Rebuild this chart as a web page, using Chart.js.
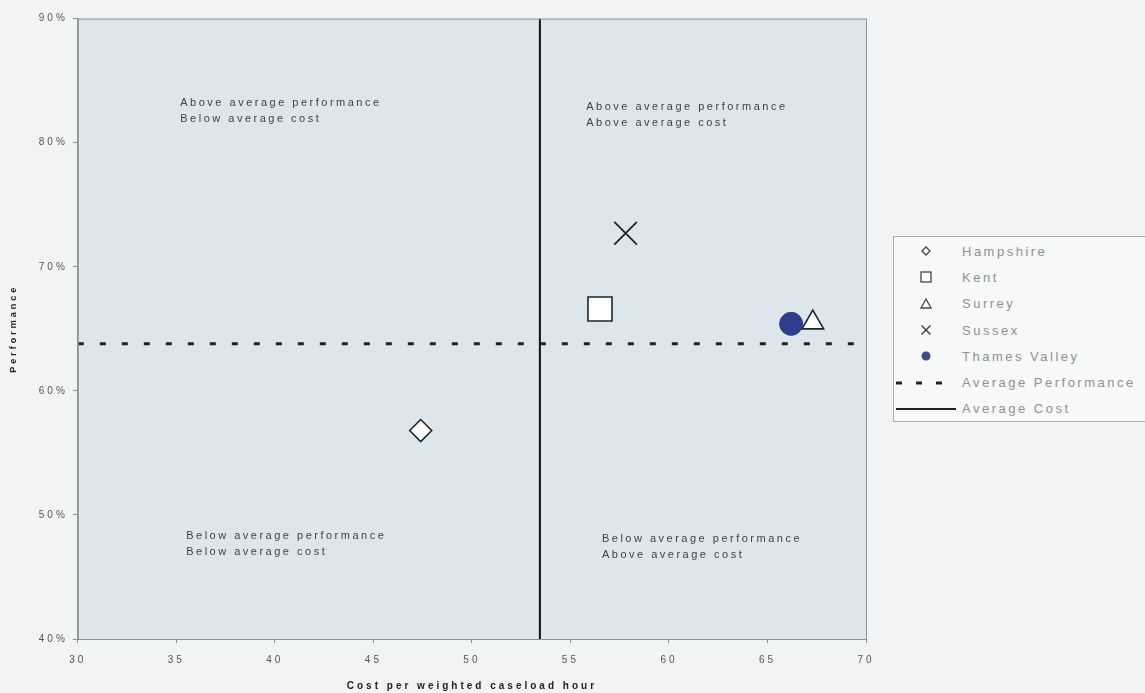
<!DOCTYPE html>
<html lang="en">
<head>
    <meta charset="UTF-8">
    <title>Performance vs Cost</title>
    <script src="https://cdn.jsdelivr.net/npm/chart.js"></script>
    <style>
        html, body {
            margin: 0;
            padding: 0;
            overflow: hidden;
            background-color: #f2f4f4;
            font-family: "Liberation Sans", Arial, sans-serif;
        }
        #wrap {
            position: relative;
            width: 1145px;
            height: 693px;
        }
        #legend {
            position: absolute;
            left: 893px;
            top: 236px;
            width: 280px;
            height: 186px;
            border: 1px solid #a8acae;
            background: #f7f8f8;
            box-sizing: border-box;
            padding-top: 1px;
        }
        .item {
            display: flex;
            align-items: center;
            height: 26.3px;
            font-size: 13px;
            letter-spacing: 2.5px;
            color: #8e9194;
            white-space: nowrap;
        }
        .item svg {
            width: 64px;
            height: 14px;
            margin-right: 4px;
        }
    </style>
</head>
<body>
<div id="wrap">
    <canvas id="chart" width="1145" height="693"></canvas>
    <div id="legend"></div>
</div>
<script>
    // data
    const regions = ['Hampshire', 'Kent', 'Surrey', 'Sussex', 'Thames Valley'];
    const cost = [47.4, 56.5, 67.3, 57.8, 66.2];
    const performance = [56.8, 66.6, 65.5, 72.7, 65.4];
    const avgCost = 53.45;
    const avgPerformance = 63.8;
    const xTicks = [30, 35, 40, 45, 50, 55, 60, 65, 70];
    const yTicks = [40, 50, 60, 70, 80, 90];

    // quadrant captions, anchored in data units (first line centre)
    const quadrants = [
        { x: 35.2, y: 83.2, lines: ['Above average performance', 'Below average cost'] },
        { x: 55.8, y: 82.9, lines: ['Above average performance', 'Above average cost'] },
        { x: 35.5, y: 48.3, lines: ['Below average performance', 'Below average cost'] },
        { x: 56.6, y: 48.1, lines: ['Below average performance', 'Above average cost'] }
    ];

    const markers = [
        { pointStyle: 'rectRot', radius: 11, bg: '#ffffff', border: '#222', width: 1.6 },
        { pointStyle: 'rect', radius: 17, bg: '#ffffff', border: '#222', width: 1.6 },
        { pointStyle: 'triangle', radius: 12.5, bg: '#ffffff', border: '#222', width: 1.6 },
        { pointStyle: 'crossRot', radius: 16, bg: '#222', border: '#222', width: 1.8 },
        { pointStyle: 'circle', radius: 11.5, bg: '#2f3d8c', border: '#2f3d8c', width: 1 }
    ];

    const datasets = regions.map((name, i) => ({
        type: 'scatter',
        label: name,
        data: [{ x: cost[i], y: performance[i] }],
        pointStyle: markers[i].pointStyle,
        pointRadius: markers[i].radius,
        pointHoverRadius: markers[i].radius,
        backgroundColor: markers[i].bg,
        borderColor: markers[i].border,
        pointBorderWidth: markers[i].width
    }));

    datasets.push({
        type: 'line',
        label: 'Average Performance',
        data: [{ x: 30, y: avgPerformance }, { x: 70, y: avgPerformance }],
        borderColor: '#222',
        borderWidth: 3,
        borderDash: [6, 16],
        pointRadius: 0
    });
    datasets.push({
        type: 'line',
        label: 'Average Cost',
        data: [{ x: avgCost, y: 40 }, { x: avgCost, y: 90 }],
        borderColor: '#111',
        borderWidth: 2,
        pointRadius: 0
    });

    // the printed chart uses widely spaced lettering everywhere
    const spacing = chart => { chart.ctx.letterSpacing = '3px'; };

    const plotBackground = {
        id: 'plotBackground',
        afterInit: spacing,
        beforeUpdate: spacing,
        beforeDraw(chart) {
            spacing(chart);
            const { ctx, chartArea: a } = chart;
            ctx.save();
            ctx.fillStyle = '#dde6ea';
            ctx.fillRect(a.left, a.top, a.width, a.height);
            ctx.restore();
        },
        afterDatasetsDraw(chart) {
            const { ctx, chartArea: a, scales } = chart;
            ctx.save();
            ctx.strokeStyle = '#8c9296';
            ctx.lineWidth = 1;
            ctx.strokeRect(a.left + 0.5, a.top + 0.5, a.width, a.height);
            ctx.font = '11px "Liberation Sans", Arial, sans-serif';
            ctx.letterSpacing = '2.5px';
            ctx.fillStyle = '#3f4244';
            ctx.textBaseline = 'middle';
            quadrants.forEach(q => {
                const px = scales.x.getPixelForValue(q.x);
                const py = scales.y.getPixelForValue(q.y);
                q.lines.forEach((t, k) => ctx.fillText(t, px, py + k * 16));
            });
            ctx.restore();
        }
    };

    new Chart(document.getElementById('chart'), {
        data: { datasets: datasets },
        options: {
            responsive: false,
            animation: false,
            layout: { padding: { top: 10, right: 279, left: 8, bottom: 1 } },
            plugins: {
                legend: { display: false },
                tooltip: { enabled: false }
            },
            scales: {
                x: {
                    type: 'linear',
                    min: 30,
                    max: 70,
                    afterBuildTicks: axis => { axis.ticks = xTicks.map(v => ({ value: v })); },
                    grid: { drawOnChartArea: false, drawTicks: true, tickLength: 4, color: '#8c9296' },
                    border: { color: '#8c9296' },
                    ticks: { color: '#555', font: { size: 10, family: '"Liberation Sans", Arial' }, padding: 11 },
                    title: {
                        display: true,
                        text: 'Cost per weighted caseload hour',
                        color: '#222',
                        font: { size: 10, weight: 'bold', family: '"Liberation Sans", Arial' },
                        padding: { top: 3, bottom: 0 }
                    }
                },
                y: {
                    type: 'linear',
                    min: 40,
                    max: 90,
                    afterBuildTicks: axis => { axis.ticks = yTicks.map(v => ({ value: v })); },
                    grid: { drawOnChartArea: false, drawTicks: true, tickLength: 5, color: '#8c9296' },
                    border: { color: '#8c9296' },
                    ticks: {
                        color: '#555',
                        font: { size: 10, family: '"Liberation Sans", Arial' },
                        padding: 5,
                        callback: v => v + '%'
                    },
                    title: {
                        display: true,
                        text: 'Performance',
                        color: '#222',
                        font: { size: 9, weight: 'bold', family: '"Liberation Sans", Arial' },
                        padding: { top: 0, bottom: 15 }
                    }
                }
            }
        },
        plugins: [plotBackground]
    });

    // legend
    const symbols = [
        '<polygon points="32,3 36,7 32,11 28,7" fill="#fff" stroke="#444" stroke-width="1.3"/>',
        '<rect x="27" y="2" width="10" height="10" fill="#fff" stroke="#444" stroke-width="1.3"/>',
        '<polygon points="32,2 37,11 27,11" fill="#fff" stroke="#444" stroke-width="1.3"/>',
        '<path d="M27.5,2.5 L36.5,11.5 M36.5,2.5 L27.5,11.5" stroke="#444" stroke-width="1.5"/>',
        '<circle cx="32" cy="7" r="4.5" fill="#3a4a90"/>',
        '<line x1="2" y1="7" x2="58" y2="7" stroke="#222" stroke-width="3" stroke-dasharray="6,14"/>',
        '<line x1="2" y1="7" x2="62" y2="7" stroke="#222" stroke-width="2"/>'
    ];
    const labels = regions.concat(['Average Performance', 'Average Cost']);
    const legend = document.getElementById('legend');
    labels.forEach((name, i) => {
        const row = document.createElement('div');
        row.className = 'item';
        row.innerHTML = `<svg viewBox="0 0 64 14">${symbols[i]}</svg><span>${name}</span>`;
        legend.appendChild(row);
    });
</script>
</body>
</html>
